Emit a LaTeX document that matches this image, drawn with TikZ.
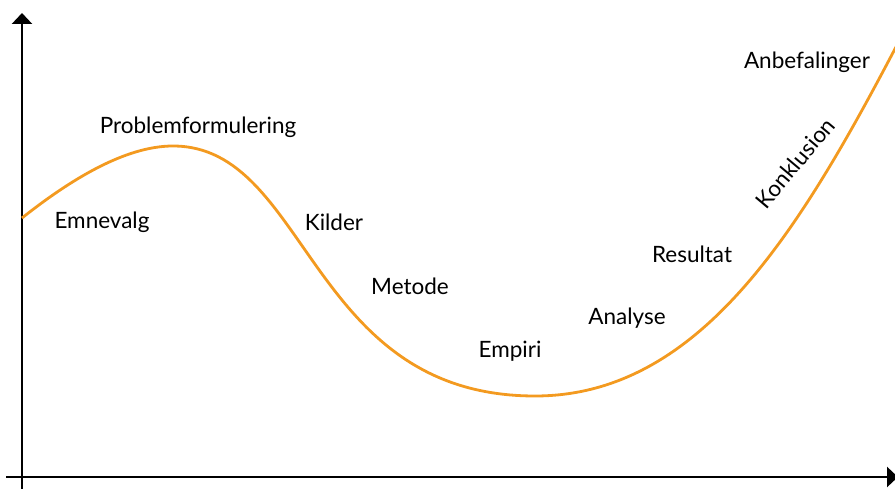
\documentclass[tikz,border=0pt]{standalone}
\usepackage{fontspec}
\setmainfont{Lato}
\usetikzlibrary{arrows.meta}
\definecolor{kurve}{RGB}{243,154,32}
\tikzset{
  akse/.style={line width=2.5pt,-{Triangle[width=20pt,length=11pt]}},
  fase/.style={font=\fontsize{22.5}{26}\selectfont,inner sep=0pt}
}
\begin{document}
\begin{tikzpicture}[x=1pt,y=-1pt]
      \useasboundingbox (0,0) rectangle (895,489);
      \coordinate (start) at (22,489);
      \coordinate (top) at (22,13);
      \coordinate (venstre) at (6,477);
      \coordinate (hoejre) at (898,477);
      \draw[akse] (start) to (top);
      \draw[akse] (venstre) to (hoejre);
      \draw[kurve,line width=2.8pt] (22,218)
        .. controls (70,180) and (125,146) .. (173,146)
        .. controls (309,146) and (308,396) .. (535,396)
        .. controls (700,396) and (800,230) .. (897,45);
      \draw
        (102,222) node[fase] (emnevalg){Emnevalg}
        (198,127) node[fase] (problem){Problemformulering}
        (334,222) node[fase] (kilder){Kilder}
        (410,286) node[fase] (metode){Metode}
        (510,351) node[fase] (empiri){Empiri}
        (627,318) node[fase] (analyse){Analyse}
        (692,254) node[fase] (resultat){Resultat}
        (795,163) node[fase,rotate=50] (konklusion){Konklusion}
        (807,62) node[fase] (anbefalinger){Anbefalinger};
    \end{tikzpicture}
\end{document}
